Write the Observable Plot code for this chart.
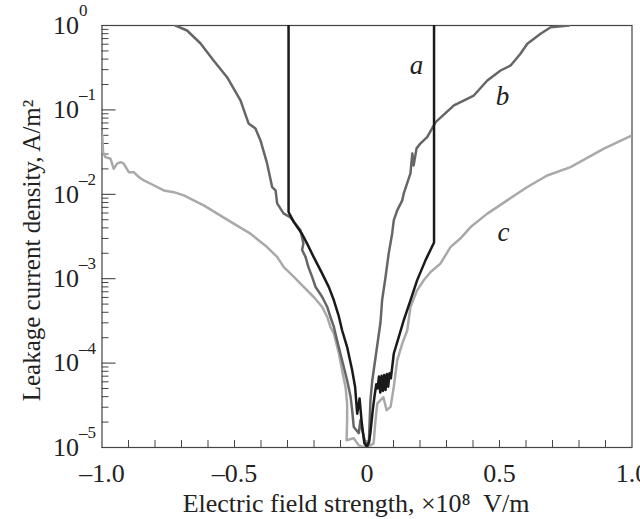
<!DOCTYPE html>
<html><head><meta charset="utf-8">
<script src="https://cdn.jsdelivr.net/npm/d3@7"></script>
<script src="https://cdn.jsdelivr.net/npm/@observablehq/plot@0.6"></script>
<style>body{margin:0;background:#fff}</style>
</head><body><div id="chart"></div>
<script>
// Curve a (black)
const aX = [-0.296,-0.296,-0.276,-0.245,-0.226,-0.201,-0.169,-0.144,-0.125,-0.106,-0.094,-0.075,-0.056,-0.045,-0.037,-0.028,-0.020,-0.010,0.000,0.008,0.013,0.022,0.028,0.035,0.040,0.045,0.050,0.055,0.060,0.065,0.070,0.075,0.080,0.085,0.090,0.095,0.101,0.120,0.139,0.164,0.189,0.221,0.253,0.253];
const aY = [1.0,6.17e-3,4.68e-3,3.39e-3,2.60e-3,1.80e-3,1.15e-3,7.94e-4,5.55e-4,3.55e-4,2.45e-4,1.55e-4,8.22e-5,5.25e-5,2.51e-5,3.80e-5,2.00e-5,1.12e-5,1.02e-5,1.17e-5,1.51e-5,2.82e-5,3.98e-5,5.62e-5,5.01e-5,6.92e-5,4.47e-5,7.08e-5,4.68e-5,7.24e-5,4.79e-5,7.41e-5,5.25e-5,7.59e-5,6.61e-5,8.91e-5,1.29e-4,2.04e-4,3.24e-4,5.55e-4,9.55e-4,1.66e-3,2.69e-3,1.0];
// Curve b (dark grey)
const bX = [-0.723,-0.679,-0.628,-0.579,-0.528,-0.477,-0.447,-0.421,-0.402,-0.377,-0.358,-0.345,-0.339,-0.315,-0.289,-0.251,-0.240,-0.245,-0.232,-0.221,-0.207,-0.194,-0.169,-0.150,-0.138,-0.125,-0.113,-0.094,-0.075,-0.062,-0.056,-0.050,-0.031,-0.025,-0.018,-0.006,0.007,0.013,0.020,0.051,0.057,0.070,0.082,0.095,0.101,0.114,0.133,0.139,0.164,0.171,0.176,0.187,0.202,0.227,0.259,0.328,0.403,0.454,0.504,0.542,0.579,0.605,0.655,0.693,0.762];
const bY = [1.0,0.873,0.612,0.385,0.244,0.129,0.0692,0.0603,0.0435,0.0232,0.0122,0.0111,7.82e-3,5.94e-3,5.33e-3,3.74e-3,2.62e-3,2.20e-3,1.81e-3,1.37e-3,1.05e-3,7.98e-4,6.07e-4,4.62e-4,3.52e-4,2.68e-4,1.86e-4,1.08e-4,6.27e-5,3.98e-5,2.77e-5,1.75e-5,1.48e-5,2.10e-5,1.60e-5,1.12e-5,1.12e-5,3.63e-5,6.27e-5,3.05e-4,5.55e-4,1.05e-3,2.00e-3,3.44e-3,4.91e-3,6.46e-3,8.47e-3,0.0103,0.0177,0.0305,0.0220,0.0350,0.0401,0.0476,0.0716,0.113,0.148,0.223,0.293,0.336,0.462,0.607,0.798,0.955,1.0];
// Curve c (light grey)
const cX = [-0.999,-0.996,-0.987,-0.968,-0.956,-0.943,-0.930,-0.918,-0.899,-0.880,-0.861,-0.842,-0.805,-0.767,-0.729,-0.691,-0.654,-0.616,-0.565,-0.503,-0.440,-0.377,-0.339,-0.314,-0.276,-0.239,-0.201,-0.169,-0.150,-0.138,-0.125,-0.106,-0.094,-0.081,-0.075,-0.075,-0.077,-0.050,-0.031,-0.018,0.006,0.025,0.032,0.039,0.062,0.074,0.089,0.101,0.114,0.133,0.152,0.164,0.189,0.214,0.240,0.277,0.315,0.353,0.391,0.454,0.529,0.605,0.680,0.768,0.894,1.0];
const cY = [0.0499,0.0316,0.0276,0.0264,0.0201,0.0231,0.0240,0.0231,0.0183,0.0183,0.0160,0.0146,0.0128,0.0111,0.0106,9.70e-3,8.47e-3,7.40e-3,5.90e-3,4.49e-3,3.42e-3,2.37e-3,1.81e-3,1.37e-3,1.05e-3,7.98e-4,6.07e-4,4.62e-4,3.52e-4,2.68e-4,2.24e-4,1.30e-4,8.22e-5,5.21e-5,3.32e-5,2.10e-5,1.22e-5,1.29e-5,1.06e-5,1.02e-5,1.03e-5,1.12e-5,2.10e-5,3.34e-5,3.94e-5,2.77e-5,3.03e-5,5.21e-5,1.08e-4,1.70e-4,2.45e-4,4.62e-4,7.28e-4,9.57e-4,1.20e-3,1.51e-3,2.37e-3,3.01e-3,4.09e-3,5.90e-3,8.47e-3,0.0122,0.0167,0.0210,0.0347,0.0499];

const xMinorTicks = [-0.9,-0.8,-0.7,-0.6,-0.5,-0.4,-0.3,-0.2,-0.1,0,0.1,0.2,0.3,0.4,0.5,0.6,0.7,0.8,0.9];
const xMajorTicks = [-1,-0.5,0,0.5,1];
const xTickLabels = ["\u20131.0","\u20130.5","0","0.5","1.0"];
const yMajorTicks = [1e-5,1e-4,1e-3,1e-2,1e-1,1];
const yExpLabels = ["\u20135","\u20134","\u20133","\u20132","\u20131","0"];
const yMinorTicks = [2e-5,3e-5,4e-5,5e-5,6e-5,7e-5,8e-5,9e-5,2e-4,3e-4,4e-4,5e-4,6e-4,7e-4,8e-4,9e-4,2e-3,3e-3,4e-3,5e-3,6e-3,7e-3,8e-3,9e-3,2e-2,3e-2,4e-2,5e-2,6e-2,7e-2,8e-2,9e-2,0.2,0.3,0.4,0.5,0.6,0.7,0.8,0.9];
const curveLabels = [{t:"a",x:0.187,y:0.34},{t:"b",x:0.511,y:0.145},{t:"c",x:0.515,y:3.5e-3}];
const xTitle = "Electric field strength, \u00d710\u2078  V/m";
const yTitle = "Leakage current density, A/m\u00b2";

const rows = (xs, ys) => xs.map((x, i) => ({x, y: ys[i]}));
const serif = "'Liberation Serif', 'Times New Roman', serif";

const chart = Plot.plot({
  width: 640, height: 519,
  marginLeft: 101.5, marginRight: 8.5, marginTop: 25, marginBottom: 72,
  style: {fontFamily: serif, background: "#fff", color: "#222"},
  x: {domain: [-1, 1]},
  y: {type: "log", domain: [1e-5, 1]},
  marks: [
    Plot.axisX({ticks: xMinorTicks, tickSize: -7, text: null, label: null, stroke: "#444"}),
    Plot.axisX({ticks: xMajorTicks, tickSize: 0, tickPadding: 16, label: null, fontSize: 26, fontFamily: serif,
      tickFormat: d => xTickLabels[xMajorTicks.indexOf(d)]}),
    Plot.axisY({ticks: yMinorTicks, tickSize: -7, text: null, label: null, stroke: "#444"}),
    Plot.axisY({ticks: yMajorTicks, tickSize: -14, text: null, label: null, stroke: "#333"}),
    Plot.text(yMajorTicks, {x: () => -1, y: d => d, text: () => "10", textAnchor: "end", dx: -23, fontSize: 26, fontFamily: serif, fill: "#222"}),
    Plot.text(yMajorTicks, {x: () => -1, y: d => d, text: (d, i) => yExpLabels[i], textAnchor: "start", dx: -23, dy: -15, fontSize: 17, fontFamily: serif, fill: "#222"}),
    Plot.frame({stroke: "#444", strokeWidth: 1.2}),
    Plot.line(rows(cX, cY), {x: "x", y: "y", stroke: "#a9a9a9", strokeWidth: 2.5, clip: true}),
    Plot.line(rows(bX, bY), {x: "x", y: "y", stroke: "#666", strokeWidth: 2.5, clip: true}),
    Plot.line(rows(aX, aY), {x: "x", y: "y", stroke: "#1a1a1a", strokeWidth: 2.5, clip: true}),
    Plot.text(curveLabels, {x: "x", y: "y", text: "t", fontSize: 27, fontStyle: "italic", fontFamily: serif, fill: "#222"}),
    Plot.text([yTitle], {frameAnchor: "left", textAnchor: "middle", lineAnchor: "middle", text: d => d, rotate: -90, dx: -70, dy: 14, fontSize: 25, fontFamily: serif, fill: "#222"}),
    Plot.text([xTitle], {frameAnchor: "bottom", textAnchor: "middle", lineAnchor: "middle", text: d => d, dx: -11, dy: 56, fontSize: 26, fontFamily: serif, fill: "#222"})
  ]
});
document.getElementById("chart").appendChild(chart);
</script>
</body></html>
